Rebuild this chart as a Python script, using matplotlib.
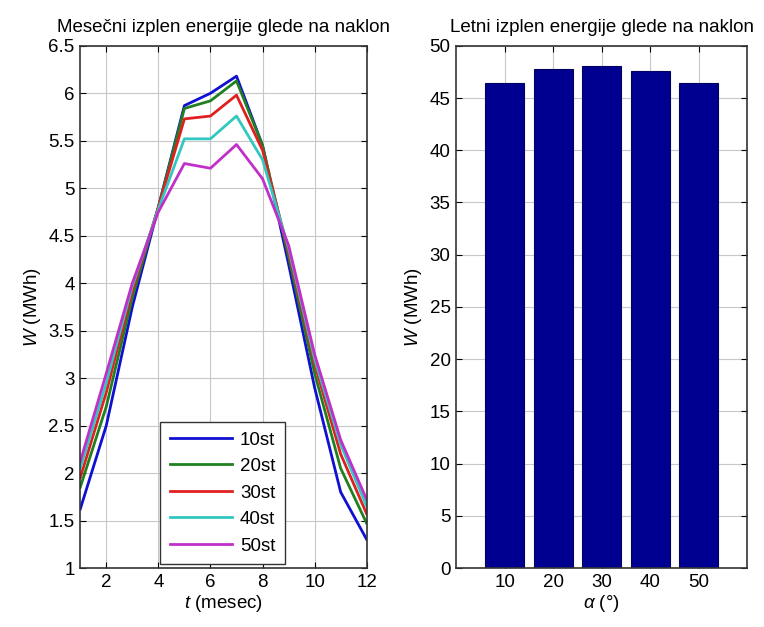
import matplotlib
matplotlib.use('Agg')
import matplotlib.pyplot as plt

plt.rcParams['font.family'] = ['Liberation Sans', 'DejaVu Sans']
plt.rcParams['mathtext.fontset'] = 'custom'
plt.rcParams['mathtext.it'] = 'Liberation Sans:italic'
plt.rcParams['mathtext.rm'] = 'Liberation Sans'

# mesečni izplen (MWh) za naklone 10..50 stopinj
months = [1, 2, 3, 4, 5, 6, 7, 8, 9, 10, 11, 12]
w_10 = [1.62, 2.50, 3.75, 4.80, 5.87, 6.00, 6.18, 5.45, 4.20, 2.90, 1.80, 1.30]
w_20 = [1.85, 2.70, 3.85, 4.80, 5.84, 5.92, 6.13, 5.45, 4.28, 3.05, 2.05, 1.47]
w_30 = [1.95, 2.85, 3.92, 4.80, 5.73, 5.76, 5.98, 5.40, 4.33, 3.15, 2.20, 1.57]
w_40 = [2.05, 2.95, 3.97, 4.78, 5.52, 5.52, 5.76, 5.30, 4.37, 3.20, 2.30, 1.65]
w_50 = [2.12, 3.05, 4.00, 4.75, 5.26, 5.21, 5.46, 5.10, 4.40, 3.25, 2.35, 1.72]
series_labels = ['10st', '20st', '30st', '40st', '50st']

# letni izplen (MWh)
angles = ['10', '20', '30', '40', '50']
w_year = [46.4, 47.8, 48.1, 47.6, 46.4]

colors = ['#1010d0', '#208020', '#e02020', '#30c8c0', '#c030c8']
fs = 13.5

fig = plt.figure(figsize=(7.64, 6.27), dpi=100)
ax1 = fig.add_axes([0.105, 0.094, 0.375, 0.833])
ax2 = fig.add_axes([0.597, 0.094, 0.381, 0.833])

for ys, c, lab in zip([w_10, w_20, w_30, w_40, w_50], colors, series_labels):
    ax1.plot(months, ys, color=c, linewidth=2, label=lab)
ax1.set_xlim(1, 12)
ax1.set_ylim(1, 6.5)
ax1.set_xticks([2, 4, 6, 8, 10, 12])
ax1.set_yticks([1, 1.5, 2, 2.5, 3, 3.5, 4, 4.5, 5, 5.5, 6, 6.5])
ax1.set_yticklabels(['1', '1.5', '2', '2.5', '3', '3.5', '4', '4.5', '5', '5.5', '6', '6.5'])
ax1.set_title('Mesečni izplen energije glede na naklon', fontsize=fs, pad=10)
ax1.set_xlabel(r'$\mathit{t}$ (mesec)', fontsize=fs, labelpad=2)
ax1.set_ylabel(r'$\mathit{W}$ (MWh)', fontsize=fs)
leg = ax1.legend(loc='lower center', bbox_to_anchor=(0.497, 0.008), fontsize=fs,
                 fancybox=False, edgecolor='#333333', framealpha=1,
                 handlelength=3.3, handletextpad=0.45, labelspacing=0.5,
                 borderpad=0.5, borderaxespad=0)
leg.get_frame().set_linewidth(1.0)

x = list(range(1, len(angles) + 1))
ax2.bar(x, w_year, width=0.8, color='#000090', edgecolor='#000060', linewidth=0.8, zorder=2)
ax2.set_xlim(0, 6)
ax2.set_ylim(0, 50)
ax2.set_xticks(x)
ax2.set_xticklabels(angles)
ax2.set_yticks(range(0, 51, 5))
ax2.set_title('Letni izplen energije glede na naklon', fontsize=fs, pad=10)
ax2.set_xlabel(r'$\mathit{\alpha}$ (°)', fontsize=fs, labelpad=2)
ax2.set_ylabel(r'$\mathit{W}$ (MWh)', fontsize=fs)

for ax in (ax1, ax2):
    ax.grid(True, color='#c8c8c8', linestyle='-', linewidth=0.8)
    ax.set_axisbelow(True)
    ax.tick_params(direction='in', top=True, right=True, labelsize=fs, length=4, pad=4)
    for s in ax.spines.values():
        s.set_linewidth(1.2)
        s.set_color('#333333')

fig.savefig('out.png', dpi=100)
